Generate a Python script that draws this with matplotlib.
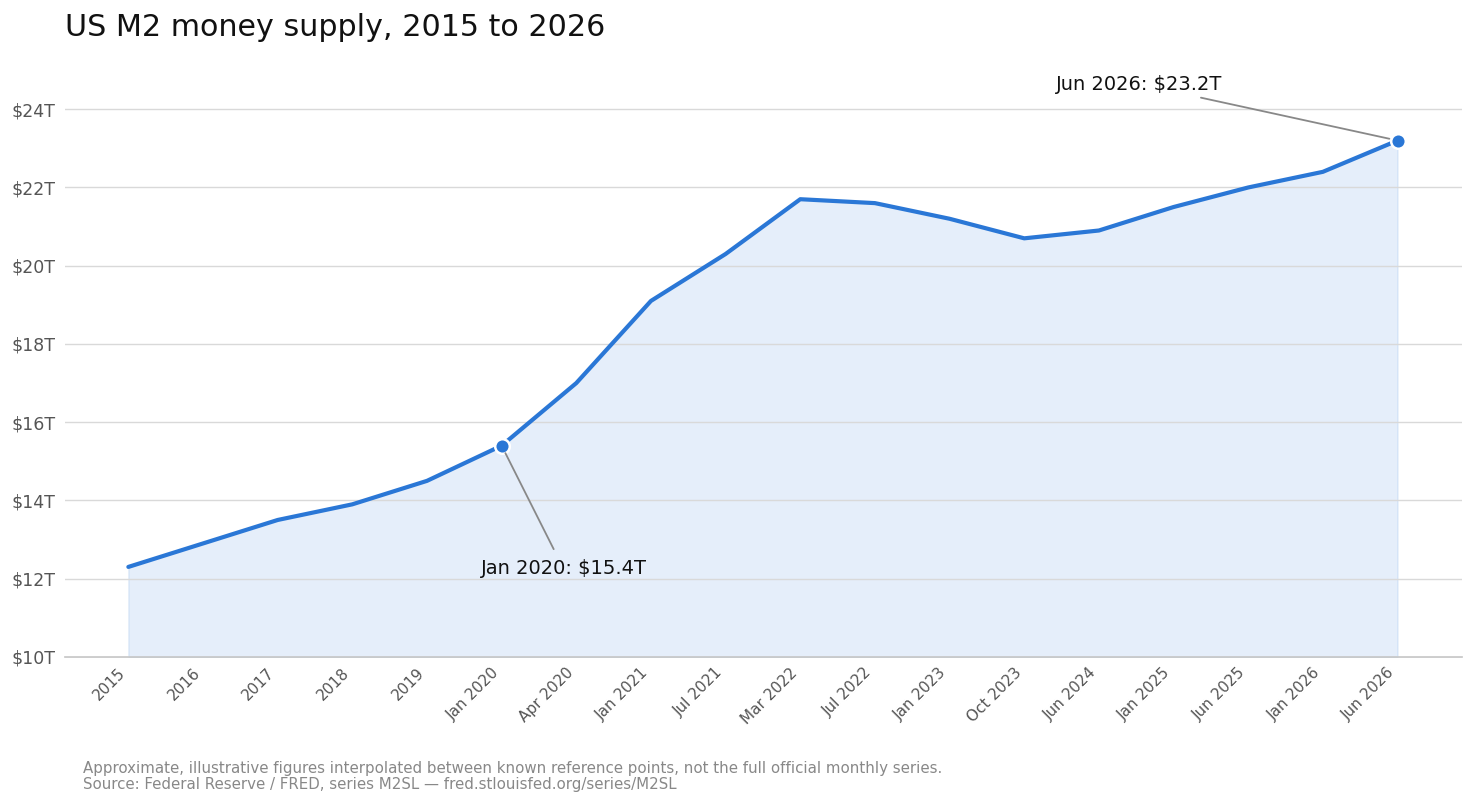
import matplotlib
matplotlib.use("Agg")
import matplotlib.pyplot as plt
from matplotlib.ticker import FuncFormatter

plt.rcParams["font.family"] = ["DejaVu Sans"]

# M2 (trillions USD)
labels = ["2015", "2016", "2017", "2018", "2019", "Jan 2020", "Apr 2020",
          "Jan 2021", "Jul 2021", "Mar 2022", "Jul 2022", "Jan 2023",
          "Oct 2023", "Jun 2024", "Jan 2025", "Jun 2025", "Jan 2026", "Jun 2026"]
m2 = [12.3, 12.9, 13.5, 13.9, 14.5, 15.4, 17.0,
      19.1, 20.3, 21.7, 21.6, 21.2,
      20.7, 20.9, 21.5, 22.0, 22.4, 23.2]
yticks = [10, 12, 14, 16, 18, 20, 22, 24]

blue = "#2a77d6"
x = list(range(len(labels)))

fig = plt.figure(figsize=(14.75, 8.06), dpi=100)
ax = fig.add_axes([0.044, 0.185, 0.947, 0.728])

ax.fill_between(x, m2, 10, color=blue, alpha=0.12, linewidth=1, zorder=1)
ax.plot(x, m2, color=blue, lw=3, solid_capstyle="round", zorder=3)

ax.set_xlim(-0.85, 17.86)
ax.set_ylim(10, 25)
ax.set_yticks(yticks)
ax.yaxis.set_major_formatter(FuncFormatter(lambda v, p: f"${v:.0f}T"))
ax.set_xticks(x)
ax.set_xticklabels(labels, rotation=45, ha="right")

ax.grid(axis="y", color="#d9d9d9", lw=1, zorder=2)
ax.set_axisbelow(False)
for s in ["top", "right", "left"]:
    ax.spines[s].set_visible(False)
ax.spines["bottom"].set_color("#c4c4c4")
ax.spines["bottom"].set_linewidth(1.2)
ax.tick_params(axis="y", length=0, labelsize=12.5, colors="#555555", pad=7)
ax.tick_params(axis="x", length=0, labelsize=11, colors="#555555", pad=6)

# highlighted points
i1 = labels.index("Jan 2020")
i2 = labels.index("Jun 2026")
for i in (i1, i2):
    ax.plot(x[i], m2[i], "o", ms=10.5, mfc=blue, mec="white", mew=1.8, zorder=4,
            clip_on=False)

ax.annotate(f"{labels[i1]}: ${m2[i1]}T", xy=(x[i1], m2[i1]), xytext=(5.83, 12.25),
            ha="center", va="center", fontsize=14, color="#111111",
            arrowprops=dict(arrowstyle="-", color="#888888", lw=1.3,
                            shrinkA=6, shrinkB=6), zorder=5)
ax.annotate(f"{labels[i2]}: ${m2[i2]}T", xy=(x[i2], m2[i2]), xytext=(13.54, 24.64),
            ha="center", va="center", fontsize=14, color="#111111",
            arrowprops=dict(arrowstyle="-", color="#888888", lw=1.3,
                            shrinkA=4, shrinkB=6), zorder=5,
            annotation_clip=False)

fig.text(0.044, 0.984, "US M2 money supply, 2015 to 2026", fontsize=21.7,
         color="#111111", ha="left", va="top")
fig.text(0.056, 0.017,
         "Approximate, illustrative figures interpolated between known reference points, not the full official monthly series.\n"
         "Source: Federal Reserve / FRED, series M2SL \u2014 fred.stlouisfed.org/series/M2SL",
         fontsize=10.8, color="#888888", ha="left", va="bottom", linespacing=1.1)

fig.savefig("out.png", dpi=100)
